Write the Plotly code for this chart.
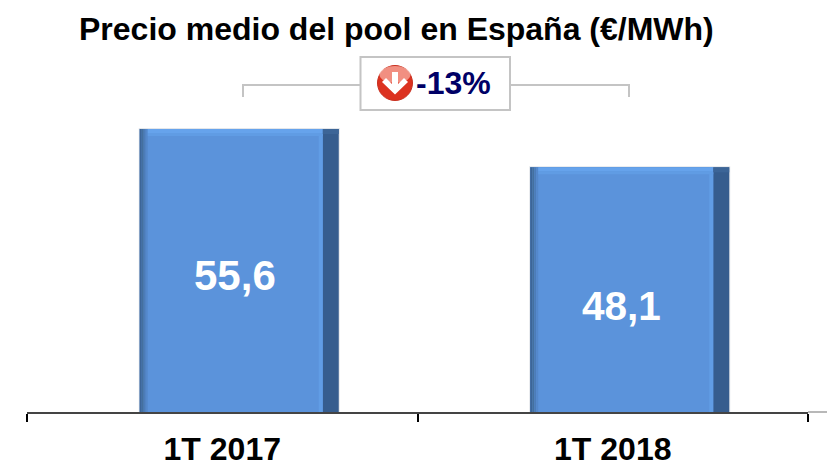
import plotly.graph_objects as go

categories = ["1T 2017", "1T 2018"]
values = [55.6, 48.1]
title = "Precio medio del pool en España (€/MWh)"
change_label = "-13%"

W, H = 827, 462
L, R, T, B = 27, 808, 0, 412
PX_PER_UNIT = 284 / 55.6
CAT_W = (R - L) / 2


def px(x):
    return (x - L) / (R - L)


def py(y):
    return 1 - (y - T) / (B - T)


def strip(x0, x1, color, top_px=0, height_px=None):
    """Overlay a vertical slice of each bar, x0/x1 in px from the tick-interval centre."""
    base = None
    ys = [v - top_px / PX_PER_UNIT for v in values]
    if height_px is not None:
        base = [y - height_px / PX_PER_UNIT for y in ys]
        ys = [height_px / PX_PER_UNIT] * len(values)
    return go.Bar(
        x=categories, y=ys, base=base,
        offset=x0 / CAT_W, width=(x1 - x0) / CAT_W,
        marker=dict(color=color, line=dict(width=0)),
        hoverinfo="skip", showlegend=False,
    )


fig = go.Figure()
# soft halo around the bars
fig.add_trace(strip(-83.5, 117.5, "#e3e6ea"))
# body and shaded side
fig.add_trace(strip(-82.5, 116.5, "#365d8e", top_px=1))
fig.add_trace(strip(-82.5, 100.5, "#5b93db", top_px=1))
# left bevel
fig.add_trace(strip(-82.5, -80.5, "#3c6597", top_px=1))
fig.add_trace(strip(-80.5, -78.5, "#44709f", top_px=1))
fig.add_trace(strip(-78.5, -76.5, "#4c7cb8", top_px=1))
fig.add_trace(strip(-76.5, -74.5, "#5488cb", top_px=1))
# right highlight
fig.add_trace(strip(96.5, 100.5, "#619de5", top_px=1))
# top highlight
fig.add_trace(strip(-74.5, 100.5, "#66a3ec", top_px=1, height_px=4))
fig.add_trace(strip(-74.5, 100.5, "#609ce4", top_px=5, height_px=3))
fig.add_trace(strip(100.5, 116.5, "#3c6597", top_px=1, height_px=5))

shapes = []
LINE = "#c4c4c4"
line_s = dict(type="line", xref="paper", yref="paper", layer="above")
# bracket
for (x0, y0, x1, y1) in [(242, 85, 360, 85), (243, 84, 243, 97),
                         (510, 85, 630, 85), (629, 84, 629, 97)]:
    shapes.append(dict(line_s, x0=px(x0), y0=py(y0), x1=px(x1), y1=py(y1),
                       line=dict(color=LINE, width=2)))
# box
shapes.append(dict(type="rect", xref="paper", yref="paper", x0=px(360.5), x1=px(510),
                   y0=py(110), y1=py(57), fillcolor="white",
                   line=dict(color=LINE, width=2)))
# axis extension
shapes.append(dict(line_s, x0=px(808), x1=px(827), y0=py(412), y1=py(412),
                   line=dict(color="#b8b8b8", width=2)))
# arrow icon
cx, cy, r = 395, 83, 17.5
shapes.append(dict(type="circle", xref="paper", yref="paper", x0=px(cx - r), x1=px(cx + r),
                   y0=py(cy + r), y1=py(cy - r), fillcolor="#dc3220",
                   line=dict(color="#c8301f", width=1)))
shapes.append(dict(type="circle", xref="paper", yref="paper", x0=px(cx - r + 2), x1=px(cx + r - 2),
                   y0=py(cy), y1=py(cy - r + 0.5), fillcolor="rgba(255,205,195,0.6)",
                   line=dict(width=0)))
pts = [(392, 72), (398, 72), (398, 84), (404, 78), (408, 82), (395, 94.5), (382, 82), (386, 78), (392, 84)]
path = "M " + " L ".join(f"{px(x)} {py(y)}" for x, y in pts) + " Z"
shapes.append(dict(type="path", xref="paper", yref="paper", path=path,
                   fillcolor="white", line=dict(width=0)))

FONT = "Liberation Sans, Arial, sans-serif"
annotations = [
    dict(xref="paper", yref="paper", x=px(396.5), y=py(29), text=f"<b>{title}</b>", showarrow=False,
         font=dict(family=FONT, size=32, color="black"), xanchor="center", yanchor="middle"),
    dict(xref="paper", yref="paper", x=px(414), y=py(83), text=f"<b>{change_label}</b>", showarrow=False,
         font=dict(family=FONT, size=32, color="#000066"), xanchor="left", yanchor="middle"),
]
# value labels sit at a fixed pixel offset from each bar top
label_pos = [(12.5, -147, 42), (9, -140, 40.5)]
for cat, v, (dx, dy, size) in zip(categories, values, label_pos):
    annotations.append(dict(
        x=cat, y=v, xref="x", yref="y", text="<b>" + f"{v}".replace(".", ",") + "</b>",
        showarrow=False, xshift=dx, yshift=dy,
        font=dict(family=FONT, size=size, color="white"),
        xanchor="center", yanchor="middle"))

fig.update_layout(
    width=W, height=H,
    margin=dict(l=L, r=W - R, t=T, b=H - B, pad=0, autoexpand=False),
    paper_bgcolor="white", plot_bgcolor="white",
    barmode="overlay", showlegend=False,
    shapes=shapes, annotations=annotations,
    xaxis=dict(type="category", categoryorder="array", categoryarray=categories,
               range=[-0.5, 1.5], tickson="boundaries", ticks="outside", ticklen=8,
               tickwidth=2, tickcolor="black", showline=True, linecolor="#444444", linewidth=2,
               showgrid=False, zeroline=False,
               tickfont=dict(family=FONT, size=32, color="black"),
               tickprefix="<b>", ticksuffix="</b>", ticklabelstandoff=8),
    yaxis=dict(range=[0, (B - T) / PX_PER_UNIT], visible=False, fixedrange=True),
)
fig.write_html("out.html", config=dict(displayModeBar=False),
               post_script="document.body.style.margin='0';document.body.style.overflow='hidden';")
